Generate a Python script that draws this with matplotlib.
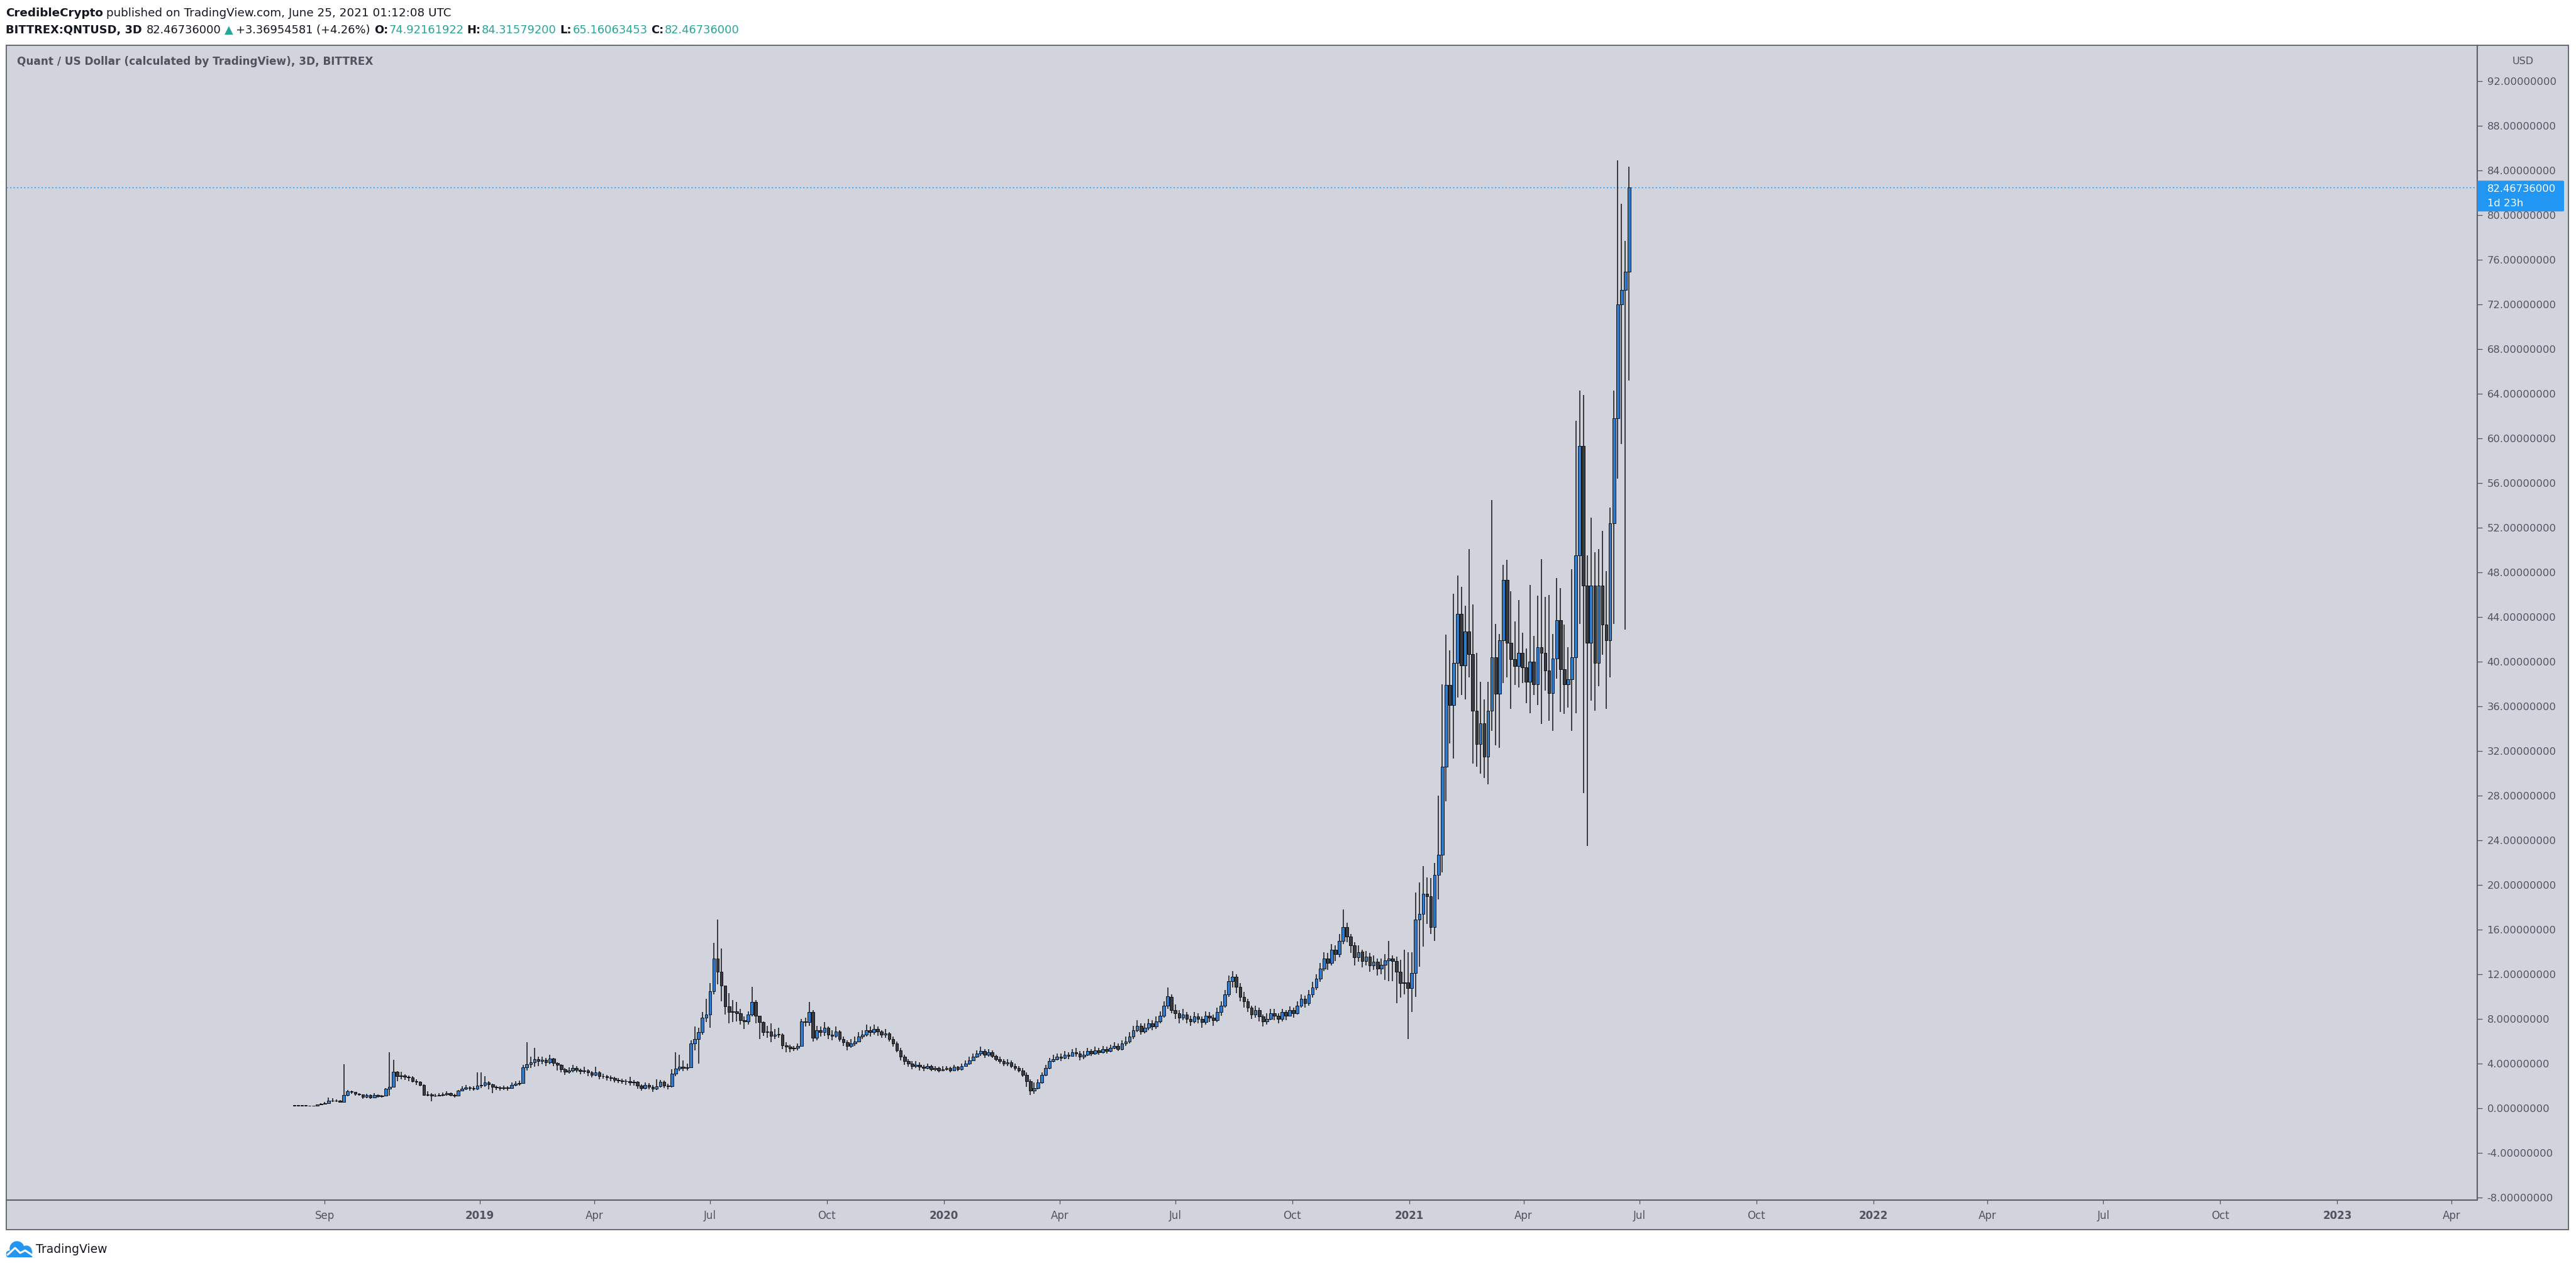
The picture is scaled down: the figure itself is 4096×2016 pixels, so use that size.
import matplotlib
matplotlib.use('Agg')
import matplotlib.pyplot as plt
import matplotlib.dates as mdates
from matplotlib.patches import Rectangle, FancyBboxPatch, Circle
import numpy as np
import pandas as pd

# QNTUSD 3D candles, 2018-08-08 .. 2021-06-23
first_open = 0.22
closes = [
    0.22, 0.24, 0.22, 0.23, 0.21, 0.20, 0.32, 0.38, 0.45, 0.65, 0.70, 0.66, 0.56,
    1.20, 1.52, 1.45, 1.30, 1.22, 1.00, 1.20, 0.95, 1.20, 1.05, 1.10, 1.75, 1.93,
    3.27, 2.85, 2.95, 2.80, 2.75, 2.45, 2.35, 2.10, 1.20, 1.25, 1.10, 1.15, 1.20,
    1.25, 1.35, 1.20, 1.10, 1.60, 1.75, 1.85, 1.80, 1.75, 2.05, 2.10, 2.30, 2.15,
    1.90, 1.85, 1.80, 1.85, 1.80, 2.10, 2.20, 2.25, 3.65, 3.95, 4.10, 4.40, 4.20,
    4.35, 4.10, 4.45, 4.05, 3.90, 3.50, 3.25, 3.40, 3.60, 3.45, 3.30, 3.40, 3.20,
    3.00, 3.20, 2.85, 2.90, 2.75, 2.70, 2.55, 2.50, 2.45, 2.40, 2.30, 2.35, 2.05,
    1.80, 2.10, 1.90, 1.75, 1.95, 2.35, 2.05, 1.95, 3.10, 3.55, 3.70, 3.60, 3.65,
    5.80, 6.20, 6.80, 8.10, 8.40, 10.5, 13.4, 12.2, 11.0, 9.1, 8.6, 8.7, 8.5,
    7.9, 7.8, 8.4, 9.5, 8.3, 7.7, 6.8, 6.9, 6.5, 6.6, 6.6, 5.65, 5.5,
    5.35, 5.40, 5.60, 7.80, 7.70, 8.60, 6.30, 7.0, 6.8, 7.2, 6.6, 6.5, 6.9,
    6.2, 5.9, 5.6, 5.8, 6.0, 6.4, 6.6, 7.0, 6.8, 7.1, 6.9, 6.6, 6.7,
    6.2, 5.8, 5.2, 4.6, 4.2, 4.0, 3.8, 3.9, 3.7, 3.6, 3.8, 3.5, 3.6,
    3.4, 3.5, 3.6, 3.4, 3.7, 3.5, 3.8, 4.0, 4.3, 4.6, 4.9, 5.1, 4.8,
    5.0, 4.7, 4.4, 4.2, 4.0, 4.1, 3.8, 3.6, 3.4, 3.0, 2.4, 1.6, 1.8,
    2.3, 3.0, 3.6, 4.2, 4.4, 4.6, 4.5, 4.8, 4.7, 5.0, 4.9, 4.6, 4.8,
    5.1, 4.9, 5.2, 5.0, 5.3, 5.1, 5.4, 5.6, 5.3, 5.8, 6.0, 6.4, 7.0,
    7.4, 6.9, 7.2, 7.6, 7.3, 7.8, 8.3, 9.2, 10.0, 8.8, 8.5, 8.1, 8.4,
    8.0, 7.8, 8.2, 8.0, 7.7, 8.3, 8.1, 7.9, 8.6, 9.2, 10.2, 11.4, 11.8,
    10.9, 10.0, 9.6, 9.0, 8.4, 8.8, 8.2, 7.8, 8.0, 8.5, 8.3, 8.0, 8.6,
    8.3, 8.8, 8.5, 9.2, 9.8, 9.4, 10.2, 10.8, 11.6, 12.5, 13.4, 13.0, 14.2,
    13.8, 15.0, 16.2, 15.4, 14.6, 13.5, 14.0, 13.2, 13.6, 12.8, 13.1, 12.5, 12.85,
    13.26, 13.4, 13.2, 12.2, 11.2, 11.25, 10.78, 12.1, 16.9, 17.4, 19.2, 19.0, 16.2,
    20.9, 22.7, 30.6, 37.9, 36.1, 39.9, 44.3, 39.65, 42.7, 40.7, 35.6, 32.6, 34.5,
    31.5, 35.6, 40.4, 37.1, 41.9, 47.3, 41.7, 40.2, 39.6, 40.8, 39.5, 38.2, 40.0,
    38.0, 41.3, 40.8, 39.2, 37.2, 40.3, 43.7, 39.3, 38.0, 38.4, 40.4, 49.5, 59.3,
    46.8, 41.7, 46.8, 39.9, 46.8, 43.3, 41.9, 52.4, 61.8, 72.0, 73.3, 74.92161922, 82.46736,
]
highs = [
    0.26, 0.28, 0.26, 0.27, 0.25, 0.24, 0.36, 0.45, 0.55, 0.95, 0.90, 0.80, 0.72,
    3.95, 1.62, 1.55, 1.42, 1.35, 1.25, 1.32, 1.25, 1.36, 1.25, 1.20, 1.80, 5.00,
    4.35, 3.30, 3.25, 3.05, 2.95, 2.85, 2.60, 2.45, 2.15, 1.50, 1.35, 1.30, 1.35,
    1.40, 1.50, 1.42, 1.30, 1.65, 1.95, 2.10, 2.00, 1.95, 3.20, 3.20, 2.90, 2.40,
    2.20, 2.05, 2.00, 2.05, 2.00, 2.30, 2.45, 2.50, 3.90, 5.90, 4.60, 5.40, 4.60,
    4.60, 4.50, 4.80, 4.50, 4.10, 3.95, 3.60, 3.65, 3.90, 3.75, 3.55, 3.70, 3.50,
    3.30, 3.70, 3.30, 3.10, 3.00, 2.95, 2.80, 2.70, 2.65, 2.60, 2.80, 2.55, 2.45,
    2.15, 2.30, 2.25, 2.10, 2.60, 2.55, 2.50, 2.20, 3.50, 5.00, 4.80, 4.30, 4.00,
    6.10, 7.30, 7.20, 8.60, 9.80, 11.2, 14.8, 16.9, 14.3, 11.0, 10.3, 9.7, 9.5,
    8.9, 8.2, 8.7, 10.9, 9.7, 8.3, 7.8, 7.4, 7.6, 7.1, 7.2, 6.7, 5.9,
    5.7, 5.6, 5.8, 8.0, 8.1, 9.5, 8.8, 7.4, 7.3, 7.7, 7.3, 7.0, 7.3,
    7.0, 6.4, 6.1, 6.2, 6.4, 6.8, 7.0, 7.5, 7.3, 7.5, 7.3, 7.0, 7.1,
    6.8, 6.4, 6.0, 5.4, 4.8, 4.4, 4.2, 4.2, 4.1, 3.9, 4.0, 3.9, 3.8,
    3.7, 3.8, 3.8, 3.7, 3.9, 3.8, 4.0, 4.3, 4.6, 4.9, 5.2, 5.5, 5.3,
    5.3, 5.2, 4.8, 4.6, 4.4, 4.4, 4.3, 4.0, 3.8, 3.6, 3.2, 2.6, 2.3,
    2.6, 3.2, 3.9, 4.5, 4.8, 4.9, 4.9, 5.1, 5.0, 5.3, 5.4, 5.1, 5.1,
    5.4, 5.3, 5.5, 5.4, 5.6, 5.5, 5.7, 5.9, 5.8, 6.1, 6.4, 6.8, 7.4,
    7.9, 7.6, 7.6, 8.0, 7.9, 8.2, 8.7, 9.6, 10.8, 10.2, 9.3, 8.8, 8.9,
    8.6, 8.3, 8.6, 8.5, 8.2, 8.7, 8.6, 8.4, 9.0, 9.6, 10.6, 11.9, 12.3,
    12.0, 11.2, 10.4, 9.8, 9.2, 9.2, 9.0, 8.4, 8.5, 8.9, 8.9, 8.5, 8.9,
    8.8, 9.1, 9.0, 9.6, 10.2, 10.1, 10.6, 11.3, 12.0, 13.0, 14.0, 13.9, 14.7,
    14.6, 15.6, 17.8, 16.6, 15.6, 14.9, 14.6, 14.2, 14.1, 13.9, 13.7, 13.4, 13.4,
    13.8, 15.0, 13.7, 13.6, 13.3, 14.2, 14.0, 14.0, 19.3, 20.2, 21.7, 20.7, 20.6,
    22.0, 28.0, 38.0, 42.4, 41.0, 46.1, 47.7, 46.7, 45.0, 50.1, 45.1, 40.8, 38.2,
    36.6, 38.2, 54.5, 43.4, 42.5, 48.7, 49.1, 46.3, 43.6, 45.5, 42.6, 41.2, 46.9,
    42.3, 45.9, 49.2, 45.8, 46.0, 42.5, 47.5, 46.6, 43.3, 41.3, 48.3, 61.6, 64.3,
    63.9, 49.5, 52.9, 49.8, 50.1, 51.7, 48.1, 53.8, 64.3, 84.9, 81.0, 77.7, 84.315792,
]
lows = [
    0.20, 0.20, 0.19, 0.20, 0.18, 0.16, 0.18, 0.30, 0.36, 0.42, 0.58, 0.55, 0.50,
    0.52, 1.08, 1.30, 1.15, 1.10, 0.85, 0.92, 0.85, 0.88, 0.95, 0.98, 1.05, 1.15,
    1.90, 2.40, 2.60, 2.55, 2.40, 2.30, 2.10, 1.95, 1.10, 1.05, 0.60, 1.00, 1.05,
    1.08, 1.15, 1.05, 0.95, 1.08, 1.50, 1.65, 1.60, 1.55, 1.65, 1.80, 1.90, 1.70,
    1.35, 1.65, 1.60, 1.65, 1.60, 1.75, 1.95, 2.05, 2.20, 3.40, 3.60, 3.70, 3.80,
    3.95, 3.80, 3.95, 3.80, 3.40, 3.20, 3.00, 3.10, 3.20, 3.20, 3.05, 3.10, 2.85,
    2.75, 2.85, 2.60, 2.65, 2.50, 2.45, 2.30, 2.25, 2.20, 2.10, 2.05, 2.05, 1.75,
    1.55, 1.70, 1.70, 1.45, 1.65, 1.85, 1.80, 1.70, 1.85, 2.90, 3.30, 3.35, 3.40,
    3.60, 5.20, 4.00, 6.60, 7.70, 7.20, 10.2, 11.1, 9.6, 8.4, 7.6, 7.7, 7.8,
    7.5, 7.1, 7.5, 8.2, 7.6, 6.2, 6.5, 6.3, 5.9, 6.2, 6.3, 5.3, 5.0,
    5.0, 5.1, 5.2, 5.5, 7.3, 7.4, 6.0, 6.1, 6.4, 6.5, 6.2, 6.1, 6.3,
    6.0, 5.6, 5.2, 5.4, 5.6, 5.9, 6.2, 6.4, 6.4, 6.6, 6.5, 6.3, 6.3,
    6.0, 5.5, 5.0, 4.3, 3.9, 3.7, 3.5, 3.6, 3.4, 3.3, 3.5, 3.3, 3.3,
    3.2, 3.3, 3.4, 3.2, 3.3, 3.3, 3.4, 3.7, 3.9, 4.2, 4.5, 4.7, 4.5,
    4.6, 4.5, 4.2, 4.0, 3.8, 3.8, 3.6, 3.4, 3.2, 2.8, 1.9, 1.2, 1.3,
    1.7, 2.2, 2.9, 3.5, 4.1, 4.3, 4.2, 4.4, 4.4, 4.6, 4.6, 4.3, 4.4,
    4.7, 4.7, 4.8, 4.8, 4.9, 4.9, 5.0, 5.3, 5.1, 5.2, 5.6, 5.8, 6.2,
    6.8, 6.6, 6.7, 7.0, 7.0, 7.1, 7.6, 8.1, 8.9, 8.5, 8.0, 7.6, 7.9,
    7.6, 7.4, 7.6, 7.6, 7.2, 7.5, 7.7, 7.4, 7.7, 8.3, 9.0, 10.0, 10.8,
    10.3, 9.6, 9.0, 8.6, 8.0, 8.1, 7.8, 7.3, 7.5, 7.9, 7.9, 7.6, 7.8,
    7.9, 8.2, 8.1, 8.4, 9.0, 9.0, 9.2, 9.9, 10.6, 11.3, 12.3, 12.4, 12.8,
    13.2, 13.5, 14.7, 14.9, 13.9, 12.8, 13.1, 12.6, 12.8, 12.2, 12.4, 11.9, 12.0,
    11.5, 11.4, 11.4, 9.4, 9.9, 10.2, 6.2, 8.6, 10.0, 12.7, 14.5, 16.5, 15.6,
    15.0, 18.7, 21.1, 27.5, 32.7, 31.3, 36.8, 37.0, 36.6, 38.6, 30.9, 30.6, 30.0,
    29.6, 29.0, 33.8, 32.5, 32.3, 38.1, 38.6, 35.8, 37.9, 37.7, 38.1, 36.3, 35.4,
    37.0, 36.1, 34.4, 37.4, 34.7, 33.8, 38.5, 35.5, 35.3, 35.9, 33.8, 35.4, 43.4,
    28.2, 23.5, 36.5, 35.6, 37.8, 40.6, 35.8, 38.6, 43.4, 56.4, 59.5, 42.9, 65.16063453,
]

tick_dates = ['2018-09-01', '2019-01-01', '2019-04-01', '2019-07-01', '2019-10-01',
              '2020-01-01', '2020-04-01', '2020-07-01', '2020-10-01',
              '2021-01-01', '2021-04-01', '2021-07-01', '2021-10-01',
              '2022-01-01', '2022-04-01', '2022-07-01', '2022-10-01',
              '2023-01-01', '2023-04-01']
tick_labels = ['Sep', '2019', 'Apr', 'Jul', 'Oct', '2020', 'Apr', 'Jul', 'Oct',
               '2021', 'Apr', 'Jul', 'Oct', '2022', 'Apr', 'Jul', 'Oct', '2023', 'Apr']
price_ticks = np.arange(-8, 93, 4)

dates = pd.date_range('2018-08-08', periods=len(closes), freq='3D')
opens = [first_open] + closes[:-1]

W, H, DPI = 4096, 2016, 100
BG = '#d1d4dc'
FRAME = '#5d606b'
TXT = '#50535e'
DARK = '#131722'
TEAL = '#26a69a'
UP = '#2e7bcc'
DOWN = '#383b42'


def fx(x):
    return x / W


def fy(y):
    return 1 - y / H


fig = plt.figure(figsize=(W / DPI, H / DPI), dpi=DPI, facecolor='white')
fig.patches.append(Rectangle((fx(10), fy(1955)), (4084 - 10) / W, (1955 - 72) / H,
                             transform=fig.transFigure, facecolor=BG,
                             edgecolor=FRAME, lw=1.3, zorder=-1))

ax = fig.add_axes([fx(10), fy(1908), (3939 - 10) / W, (1908 - 72) / H])
ax.set_facecolor('none')

# pixel scale of the reference: 2.0215 px per day, 17.75 px per dollar
jan1 = mdates.date2num(pd.Timestamp('2019-01-01'))
ax.set_xlim(jan1 - (763 - 10) / 2.0215, jan1 + (3939 - 763) / 2.0215)
ax.set_ylim((1762 - 1908) / 17.75, (1762 - 72) / 17.75)

x = mdates.date2num(dates)
o = np.array(opens)
c = np.array(closes)
up = c >= o
ax.vlines(x, lows, highs, color='#111111', lw=1.1, zorder=2)
bottoms = np.minimum(o, c)
heights = np.maximum(np.abs(c - o), 0.04)
ax.bar(x, heights, bottom=bottoms, width=2.3,
       color=np.where(up, UP, DOWN), edgecolor='#111111', linewidth=0.7, zorder=3)

ax.axhline(closes[-1], color='#2196f3', lw=1.0, ls=(0, (1.5, 2.5)), zorder=1)

for side in ['left', 'top']:
    ax.spines[side].set_visible(False)
for side in ['bottom', 'right']:
    ax.spines[side].set_color(FRAME)
    ax.spines[side].set_linewidth(1.5)

ax.yaxis.tick_right()
ax.set_yticks(price_ticks)
ax.set_yticklabels([f'{v:.8f}' for v in price_ticks])
ax.tick_params(axis='y', direction='out', length=5.8, width=0.9, color=TXT,
               labelsize=11.8, labelcolor=TXT, pad=5.5)

ax.set_xticks(mdates.date2num(pd.to_datetime(tick_dates)))
ax.set_xticklabels(tick_labels)
ax.tick_params(axis='x', direction='out', length=4.3, width=0.9, color=TXT,
               labelsize=12, labelcolor=TXT, pad=7)
for lab in ax.get_xticklabels():
    if lab.get_text().isdigit():
        lab.set_fontweight('bold')

# price axis header and last-price box
fig.text(fx(4012), fy(98), 'USD', ha='center', va='center', fontsize=11.5, color=TXT)
last_px = 1762 - closes[-1] * 17.75
box = FancyBboxPatch((fx(3939), fy(last_px + 38)), 138 / W, 49 / H,
                     boxstyle='round,pad=0,rounding_size=0.0008',
                     transform=fig.transFigure, facecolor='#2196f3',
                     edgecolor='none', zorder=5)
fig.patches.append(box)
fig.text(fx(3955), fy(last_px + 2), f'{closes[-1]:.8f}', ha='left', va='center',
         fontsize=11.8, color='white', zorder=6)
fig.text(fx(3955), fy(last_px + 25), '1d 23h', ha='left', va='center',
         fontsize=11.8, color='white', zorder=6)

# chart title inside the pane
fig.text(fx(27), fy(98), 'Quant / US Dollar (calculated by TradingView), 3D, BITTREX',
         ha='left', va='center', fontsize=12.2, fontweight='bold', color=TXT)

# header lines made of styled runs
renderer = fig.canvas.get_renderer()


def runs(x0, y0, parts, size=13):
    xp = x0
    for text, weight, color, gap in parts:
        t = fig.text(fx(xp), fy(y0), text, ha='left', va='center',
                     fontsize=size, fontweight=weight, color=color)
        xp += t.get_window_extent(renderer).width + gap


runs(9, 21, [('CredibleCrypto', 'bold', DARK, 5),
             ('published on TradingView.com, June 25, 2021 01:12:08 UTC', 'normal', DARK, 0)],
     size=13.2)
runs(9, 48, [('BITTREX:QNTUSD, 3D', 'bold', DARK, 7),
             ('82.46736000', 'normal', DARK, 5),
             ('\u25b2', 'normal', TEAL, 5),
             ('+3.36954581 (+4.26%)', 'normal', DARK, 6),
             ('O:', 'bold', DARK, 1), ('74.92161922', 'normal', TEAL, 6),
             ('H:', 'bold', DARK, 1), ('84.31579200', 'normal', TEAL, 6),
             ('L:', 'bold', DARK, 1), ('65.16063453', 'normal', TEAL, 6),
             ('C:', 'bold', DARK, 1), ('82.46736000', 'normal', TEAL, 0)],
     size=12.9)

# TradingView logo at the bottom
lax = fig.add_axes([fx(10), fy(1999), 44 / W, 27 / H])
lax.set_xlim(0, 44)
lax.set_ylim(0, 27)
lax.axis('off')
lax.add_patch(Circle((17, 14), 11, color='#2196f3'))
lax.add_patch(Circle((32, 10), 8, color='#2196f3'))
lax.add_patch(Rectangle((4, 0), 36, 10, color='#2196f3'))
lax.add_patch(Circle((5, 5), 5, color='#2196f3'))
lax.plot([2, 14, 22, 30, 42], [4, 15, 7, 11, 3], color='white', lw=2.2,
         solid_capstyle='round')
fig.text(fx(57), fy(1987), 'TradingView', ha='left', va='center', fontsize=13.5,
         color=DARK)

fig.savefig('out.png', dpi=DPI, facecolor='white')
